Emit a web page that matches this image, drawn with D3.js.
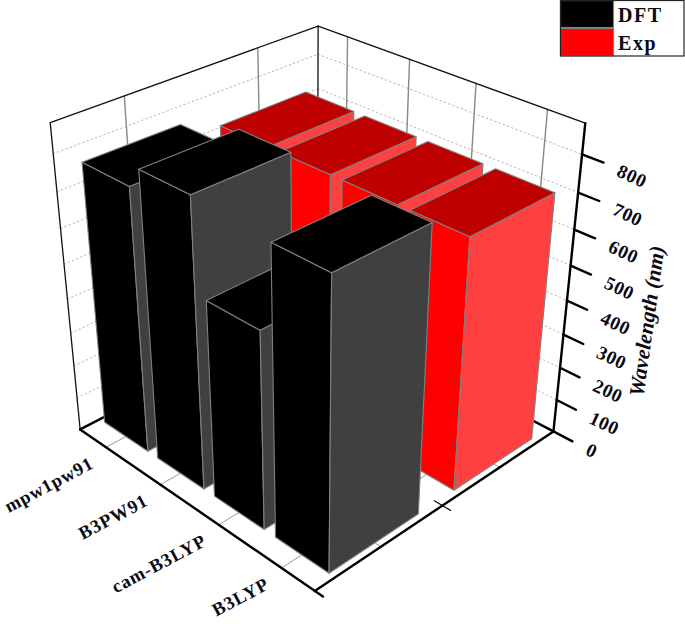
<!DOCTYPE html>
<html><head><meta charset="utf-8">
<script src="https://cdn.jsdelivr.net/npm/d3@7/dist/d3.min.js"></script>
<style>html,body{margin:0;padding:0;background:#fff}svg{display:block}
text{font-family:"Liberation Serif",serif;font-weight:bold;fill:#0a0a14}</style>
</head><body><svg id="c" width="685" height="628"></svg>
<script>
const categories = ["mpw1pw91","B3PW91","cam-B3LYP","B3LYP"];
const seriesNames = ["DFT","Exp"];
const dftValues = [762,820,565,802];
const expValues = [716,716,716,716];
const zTicks = [0,100,200,300,400,500,600,700,800];
const zMax = 880;
const seriesColors = {DFT:{left:"#000000",right:"#404040",top:"#000000"},Exp:{left:"#ff0000",right:"#ff4040",top:"#bf0000"}};

// camera calibration: unit-cube position -> picture position
const cameraAnchors = [
 [0,0,0,79,430],[1,0,0,316,592],[1,1,0,555,432],[0,0,1,50,122],[0,1,1,318.5,26],[1,1,1,585,124],
 [.375,1,1,410,60],[.625,1,1,476,85],[.875,1,1,547,111],[.125,1,1,347,36],
 [0,.25,1,124,96],[0,.75,1,258,48],
 [.125,0,0,107,446],[.375,0,0,160,484],[.625,0,0,220,526],[.875,0,0,283,569],
 [1,.25,0,377,544],[1,.5,0,444,507],[1,.75,0,496,466],
 [1,1,800/zMax,582,150],[1,1,400/zMax,569,301]
];
function solveCamera(a){
  const A=[],b=[];
  a.forEach(([x,y,z,u,v])=>{
    A.push([x,y,z,1,0,0,0,0,-u*x,-u*y,-u*z]);b.push(u);
    A.push([0,0,0,0,x,y,z,1,-v*x,-v*y,-v*z]);b.push(v);
  });
  const n=11,M=[];
  for(let i=0;i<n;i++){M.push([]);for(let j=0;j<=n;j++){let s=0;
    for(let k=0;k<A.length;k++)s+=A[k][i]*(j<n?A[k][j]:b[k]);M[i].push(s);}}
  for(let i=0;i<n;i++){let p=i;for(let r=i+1;r<n;r++)if(Math.abs(M[r][i])>Math.abs(M[p][i]))p=r;
    [M[i],M[p]]=[M[p],M[i]];
    for(let r=0;r<n;r++)if(r!==i){const f=M[r][i]/M[i][i];for(let c=i;c<=n;c++)M[r][c]-=f*M[i][c];}}
  return M.map((r,i)=>r[n]/r[i]);
}
const P=solveCamera(cameraAnchors);
const proj=(x,y,z)=>{const w=P[8]*x+P[9]*y+P[10]*z+1;
  return [(P[0]*x+P[1]*y+P[2]*z+P[3])/w,(P[4]*x+P[5]*y+P[6]*z+P[7])/w];};

const xS=d3.scaleBand().domain(categories).range([0,1]).paddingInner(.18).paddingOuter(.09);
const yS=d3.scaleBand().domain(seriesNames).range([0,1]).paddingInner(.3).paddingOuter(.15);
const zS=d3.scaleLinear().domain([0,zMax]).range([0,1]);
const xC=c=>xS(c)+xS.bandwidth()/2;

const svg=d3.select("#c");
const line=d3.line();
const seg=(g,a,b,st,w,dash)=>g.append("path").attr("d",line([proj(...a),proj(...b)])).attr("stroke",st).attr("stroke-width",w).attr("fill","none").attr("stroke-dasharray",dash||null).attr("stroke-linecap","round");

// walls
const walls=svg.append("g");
zTicks.forEach(t=>{const z=zS(t);
  if(t===0)return;
  seg(walls,[0,0,z],[0,1,z],"#b4b4b4",1,"1.5 3");
  seg(walls,[0,1,z],[1,1,z],"#b4b4b4",1,"1.5 3");
});
categories.forEach(c=>{seg(walls,[xC(c),1,0],[xC(c),1,1],"#888",1.4);seg(walls,[xC(c),0,0],[xC(c),1,0],"#999",1);});
[.25,.75].forEach(y=>{seg(walls,[0,y,0],[0,y,1],"#888",1.4);seg(walls,[0,y,0],[1,y,0],"#999",1);});
[[[0,0,1],[0,1,1]],[[0,1,1],[1,1,1]],[[0,1,1],[0,1,0]],[[0,0,1],[0,0,0]]].forEach(([a,b])=>seg(walls,a,b,"#111",1.3));
seg(walls,[0,0,0],[0,1,0],"#000",2.4);
seg(walls,[0,1,0],[1,1,0],"#000",2.4);

// bars, farthest first
const barData=[];
seriesNames.slice().reverse().forEach(s=>{
  const vals=s==="DFT"?dftValues:expValues;
  categories.forEach((c,i)=>barData.push({s,c,v:vals[i]}));
});
const bars=svg.append("g");
const poly=(g,pts,fill)=>g.append("path").attr("d",line(pts.map(p=>proj(...p)))+"Z").attr("fill",fill).attr("stroke","#808080").attr("stroke-width",1.1).attr("stroke-linejoin","round");
barData.forEach(d=>{
  const x0=xS(d.c),x1=x0+xS.bandwidth(),y0=yS(d.s),y1=y0+yS.bandwidth(),z=zS(d.v),col=seriesColors[d.s];
  const g=bars.append("g");
  poly(g,[[x0,y0,0],[x1,y0,0],[x1,y0,z],[x0,y0,z]],col.left);
  poly(g,[[x1,y0,0],[x1,y1,0],[x1,y1,z],[x1,y0,z]],col.right);
  poly(g,[[x0,y0,z],[x1,y0,z],[x1,y1,z],[x0,y1,z]],col.top);
});

// axes
const ax=svg.append("g");
seg(ax,[0,0,0],[1.03,0,0],"#000",2.4);
seg(ax,[1,0,0],[1,1,0],"#000",2.4);
seg(ax,[1,1,0],[1,1,1],"#000",2.4);
seg(ax,[.97,.5,0],[1.03,.5,0],"#000",1.2);
zTicks.forEach(t=>{
  const z=zS(t),e=proj(1.07,1,z);
  seg(ax,[1,1,z],[1.07,1,z],"#000",2.4);
  ax.append("text").attr("transform",`translate(${e[0]+12},${e[1]+13}) rotate(25)`).attr("font-size",19).attr("letter-spacing",.6).text(t);
});
categories.forEach(c=>{
  const p=proj(xC(c),0,0);
  ax.append("text").attr("transform",`translate(${p[0]-11},${p[1]+20}) rotate(-28)`).attr("text-anchor","end").attr("font-size",18.5).attr("letter-spacing",.9).text(c);
});
ax.append("text").attr("transform","translate(654,322) rotate(-82)").attr("text-anchor","middle").attr("font-size",21.5).attr("font-style","italic").text("Wavelength (nm)");

// legend
const lg=svg.append("g");
const rowH=d3.scaleBand().domain(seriesNames).range([0,56]);
seriesNames.forEach(s=>{
  lg.append("rect").attr("x",560.5).attr("y",rowH(s)+.5).attr("width",53).attr("height",rowH.bandwidth()-1).attr("fill",seriesColors[s].left).attr("stroke","#808080").attr("stroke-width",1.2);
  lg.append("text").attr("x",618).attr("y",rowH(s)+21.5).attr("font-size",20).attr("letter-spacing",1.6).text(s);
});
lg.append("rect").attr("x",560.5).attr("y",.5).attr("width",123.5).attr("height",55.5).attr("fill","none").attr("stroke","#222").attr("stroke-width",1.2);
</script></body></html>
